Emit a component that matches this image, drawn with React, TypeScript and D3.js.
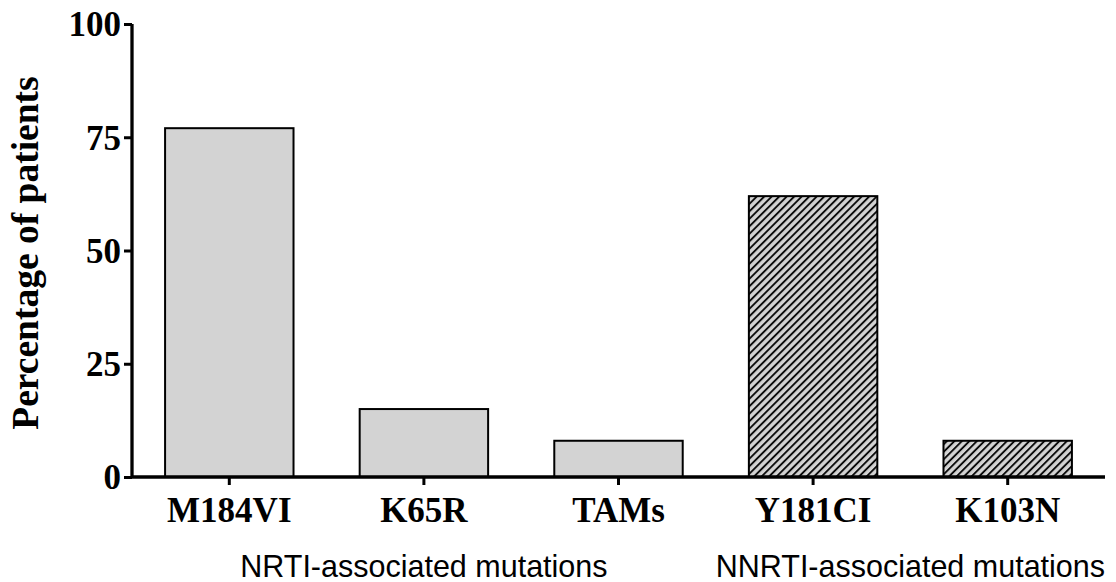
import React, {useEffect} from "react";
import * as d3 from "d3";

const categories = ["M184VI", "K65R", "TAMs", "Y181CI", "K103N"];
const values = [77, 15, 8, 62, 8];
const hatched = [false, false, false, true, true];
const yTicks = [0, 25, 50, 75, 100];
const groupLabels = ["NRTI-associated mutations", "NNRTI-associated mutations"];
const groupMembers = [
  ["M184VI", "K65R", "TAMs"],
  ["Y181CI", "K103N"],
];

const serif = "'Liberation Serif', 'Times New Roman', serif";

function createChart(container: string) {
  d3.select(container).select("svg").remove();
  const W = 1116,
    H = 582;
  const axisX = 132,
    axisY = 477,
    topY = 24,
    rightX = 1105;

  const svg = d3
    .select(container)
    .append("svg")
    .attr("width", W)
    .attr("height", H)
    .style("display", "block");

  // hatch for the NNRTI bars
  const defs = svg.append("defs");
  const pat = defs
    .append("pattern")
    .attr("id", "hatch")
    .attr("patternUnits", "userSpaceOnUse")
    .attr("width", 5.3)
    .attr("height", 10)
    .attr("patternTransform", "rotate(45)");
  pat.append("rect").attr("width", 5.3).attr("height", 10).attr("fill", "#d3d3d3");
  pat
    .append("line")
    .attr("x1", 1)
    .attr("y1", 0)
    .attr("x2", 1)
    .attr("y2", 10)
    .attr("stroke", "#000")
    .attr("stroke-width", 1.8);

  const x = d3
    .scaleBand()
    .domain(categories)
    .range([axisX, rightX])
    .paddingInner(0.34)
    .paddingOuter(0.17);

  const y = d3.scaleLinear().domain([0, 100]).range([axisY, topY]);

  // bars
  svg
    .selectAll("rect.bar")
    .data(categories)
    .enter()
    .append("rect")
    .attr("class", "bar")
    .attr("x", (d) => x(d)!)
    .attr("y", (d, i) => y(values[i]))
    .attr("width", x.bandwidth())
    .attr("height", (d, i) => axisY - y(values[i]))
    .attr("fill", (d, i) => (hatched[i] ? "url(#hatch)" : "#d3d3d3"))
    .attr("stroke", "#000")
    .attr("stroke-width", 2);

  // y axis
  const yAxis = svg
    .append("g")
    .attr("transform", `translate(${axisX},0)`)
    .call(d3.axisLeft(y).tickValues(yTicks).tickSize(8).tickSizeOuter(0).tickPadding(3));
  yAxis.select(".domain").attr("stroke-width", 3.3).attr("d", `M0,${topY}V${axisY}`);
  yAxis.selectAll(".tick line").attr("stroke-width", 3);
  yAxis
    .selectAll(".tick text")
    .attr("font-family", serif)
    .attr("font-weight", "bold")
    .attr("font-size", 35)
    .attr("fill", "#000")
    .attr("dy", "0.34em");

  // x axis
  const xAxis = svg
    .append("g")
    .attr("transform", `translate(0,${axisY})`)
    .call(d3.axisBottom(x).tickSize(8).tickSizeOuter(0).tickPadding(12));
  xAxis.select(".domain").attr("stroke-width", 3.3).attr("d", `M${axisX},0H${rightX}`);
  xAxis.selectAll(".tick line").attr("stroke-width", 3);
  xAxis
    .selectAll(".tick text")
    .attr("font-family", serif)
    .attr("font-weight", "bold")
    .attr("font-size", 35)
    .attr("fill", "#000");

  // y axis title
  svg
    .append("text")
    .attr("transform", `translate(38,253) rotate(-90)`)
    .attr("text-anchor", "middle")
    .attr("font-family", serif)
    .attr("font-weight", "bold")
    .attr("font-size", 37.5)
    .text("Percentage of patients");

  // group captions, centred under their bars
  groupLabels.forEach((label, gi) => {
    const members = groupMembers[gi];
    const first = x(members[0])!;
    const last = x(members[members.length - 1])! + x.bandwidth();
    svg
      .append("text")
      .attr("x", (first + last) / 2)
      .attr("y", 577)
      .attr("text-anchor", "middle")
      .attr("font-family", "'Liberation Sans', Arial, sans-serif")
      .attr("font-size", 30.5)
      .text(label);
  });
}

export default function App() {
  useEffect(() => {
    document.body.style.margin = "0";
    createChart("#chart");
  }, []);

  return <div id="chart"></div>;
}
